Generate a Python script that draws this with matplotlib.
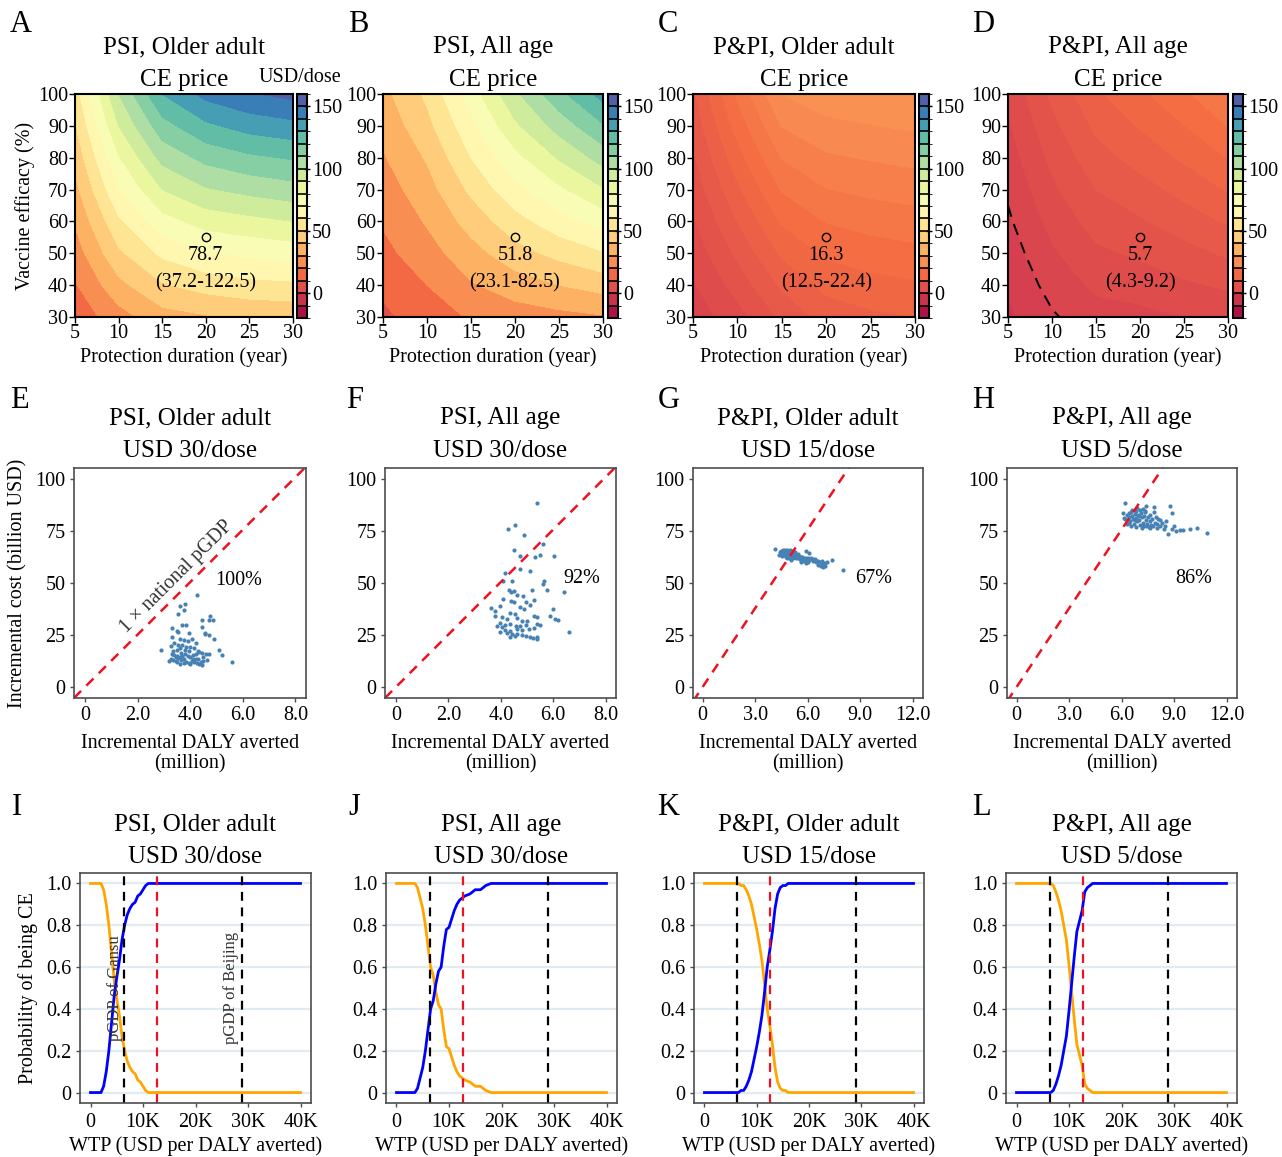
import matplotlib.pyplot as plt
import matplotlib as mpl
import numpy as np
from matplotlib.colors import Normalize, ListedColormap, BoundaryNorm

plt.rcParams['font.family'] = ['Liberation Serif', 'DejaVu Serif']

# ---------------- data ----------------
duration = [5, 10, 15, 20, 25, 30]
efficacy = [30, 40, 50, 60, 70, 80, 90, 100]

# CE price (USD/dose); one list per duration, values along efficacy 30..100
price_psi_old = [[13, 19, 25, 31, 37, 43, 49, 55],
                 [26, 37, 48, 58, 69, 79, 90, 100],
                 [36, 49, 62, 76, 90, 103, 116, 130],
                 [39, 54, 69, 84, 99, 113, 128, 143],
                 [41, 57, 72, 87, 103, 118, 134, 149],
                 [42, 58, 74, 90, 106, 121, 137, 153]]
price_psi_all = [[8, 12, 17, 21, 25, 29, 33, 37],
                 [15, 20, 26, 31, 36, 41, 47, 52],
                 [21, 29, 36, 44, 52, 60, 67, 75],
                 [25, 35, 46, 56, 67, 77, 88, 98],
                 [27, 40, 53, 66, 78, 91, 104, 117],
                 [29, 44, 59, 74, 89, 104, 119, 134]]
price_ppi_old = [[1, 2.2, 3.4, 4.7, 5.9, 7.1, 8.3, 9.5],
                 [4, 6, 8, 10, 12, 14, 16, 18],
                 [8, 10.4, 12.9, 15.3, 17.7, 20.1, 22.6, 25],
                 [11, 13.2, 15.4, 17.6, 19.9, 22.1, 24.3, 26.5],
                 [12, 14.1, 16.3, 18.4, 20.6, 22.7, 24.9, 27],
                 [12.5, 14.6, 16.8, 18.9, 21.1, 23.2, 25.4, 27.5]]
price_ppi_all = [[-3, -2.1, -1.3, -0.4, 0.4, 1.3, 2.1, 3],
                 [-0.3, 0.9, 2.1, 3.3, 4.5, 5.6, 6.8, 8],
                 [1.5, 3, 4.5, 6, 7.5, 9, 10.5, 12],
                 [1.8, 3.6, 5.4, 7.2, 9.0, 10.9, 12.7, 14.5],
                 [2.5, 4.6, 6.6, 8.7, 10.8, 12.9, 14.9, 17],
                 [3, 5.4, 7.9, 10.3, 12.7, 15.1, 17.6, 20]]
base_duration, base_efficacy = 20, 55
ce_labels = [('78.7', '(37.2-122.5)'), ('51.8', '(23.1-82.5)'),
             ('16.3', '(12.5-22.4)'), ('5.7', '(4.3-9.2)')]

# incremental DALY averted (million) / incremental cost (billion USD)
daly_E = [4.25, 3.6, 3.8, 3.75, 4.75, 4.85, 4.7, 4.45, 3.55, 3.3, 3.5, 3.7, 3.85, 4.45, 4.55, 4.7,
          4.55, 4.9, 5.1, 5.2, 5.6, 3.3, 3.6, 3.9, 4.05, 3.75, 2.9, 3.25, 3.4, 3.55, 3.7, 3.85,
          4.0, 4.15, 4.3, 3.5, 3.6, 3.3, 3.4, 3.5, 3.6, 3.7, 3.8, 3.9, 4.0, 4.1, 4.2, 4.35,
          4.45, 4.6, 4.7, 3.25, 3.35, 3.45, 3.55, 3.65, 3.75, 3.85, 3.95, 4.05, 4.15, 4.25, 4.35,
          4.45, 4.5, 3.2, 3.45, 3.65, 3.95, 4.1, 4.3, 4.5, 4.65, 3.55, 3.95, 4.2, 3.8, 3.5,
          4.0, 3.35, 3.6, 4.2, 3.75, 4.4]
cost_E = [44, 39, 40, 37, 34, 32, 32, 32, 35, 28.5, 27, 30, 30, 29, 26, 25,
          25.5, 23, 18, 15.5, 12, 24, 23, 22, 23, 22.5, 18, 19.5, 21, 20, 20, 19,
          19, 18.5, 17.5, 17.8, 18.5, 16, 15.5, 15, 14.5, 15, 16, 15, 14.5, 15.5, 16, 17,
          16.5, 16, 15.8, 13.5, 13, 12.5, 13.8, 12.8, 13.3, 12, 11.5, 12.5, 11.8, 11.5, 10.8,
          10.5, 12.5, 12.5, 14.2, 16.5, 17.2, 13.3, 13.2, 14.5, 13, 26.5, 26, 21, 18, 11.8,
          10.8, 17.2, 11.2, 13.6, 11.5, 12.2]
daly_F = [5.38, 4.27, 4.55, 4.87, 4.49, 4.72, 5.32, 5.51, 6.02, 5.61, 4.74, 5.13, 4.17, 4.08,
          4.43, 5.66, 5.61, 5.76, 6.4, 5.2, 4.3, 4.39, 4.49, 4.62, 4.85, 5.26, 4.96, 4.08,
          4.39, 4.52, 3.98, 4.74, 4.87, 5.13, 6.0, 3.62, 3.79, 3.79, 4.04, 4.34, 4.55, 5.26,
          5.38, 5.87, 6.08, 6.17, 4.23, 4.62, 4.81, 5.0, 3.98, 4.17, 4.36, 3.85, 4.04, 4.59,
          4.74, 4.96, 5.38, 5.51, 5.06, 5.26, 4.17, 4.36, 4.62, 4.81, 3.98, 4.23, 4.43, 4.62,
          4.81, 4.96, 5.13, 5.23, 5.38, 5.38, 6.59, 4.36, 4.55]
cost_F = [88.2, 76.1, 77.8, 72.9, 65.9, 63, 62.4, 63.3, 62.7, 68.7, 56.6, 55.8, 54.7, 50.7,
          51, 51, 49.3, 46.7, 45.5, 46.6, 46.7, 45.8, 46.1, 44.2, 43.5, 41.8, 40.7, 42.3,
          41.5, 40.7, 39.1, 38.4, 37.5, 39.4, 37.5, 37.8, 36.4, 34, 33.5, 35.4, 34.9, 34,
          33.5, 34.3, 32.7, 32.4, 32.7, 33, 31.7, 31.9, 30.8, 29.8, 30.3, 29.5, 28.7, 29.5,
          29.2, 29.8, 30.3, 29.8, 27.9, 28.2, 27.6, 27.1, 27.9, 27.6, 26.3, 26, 25.5, 25.5,
          25, 24.7, 23.9, 23.4, 23.8, 23.1, 26.3, 23.9, 24.7]
daly_G = [4.15, 4.5, 4.6, 4.7, 4.8, 4.9, 5.0, 5.1, 5.2, 5.3, 4.55, 4.65, 4.75, 4.85, 4.95, 5.05,
          5.15, 5.25, 5.35, 5.45, 4.6, 4.7, 4.8, 4.9, 5.0, 5.1, 5.2, 5.3, 5.4, 5.5, 5.6, 5.7,
          5.8, 5.9, 6.0, 4.55, 4.75, 4.95, 5.15, 5.35, 5.55, 5.75, 5.95, 6.1, 6.2, 6.3, 6.4,
          6.5, 6.6, 6.7, 6.8, 6.9, 7.0, 6.6, 6.75, 6.9, 7.0, 5.9, 6.0, 5.8, 5.6, 7.4, 7.1, 6.3,
          5.9, 6.1, 4.4, 4.35, 5.45, 5.65, 6.2, 6.45, 6.85, 5.05, 4.85, 8.0]
cost_G = [66.2, 65.5, 66, 65.8, 65.9, 65.3, 65.8, 65.2, 65, 64.8, 64.5, 64.8, 64.2, 64.7, 64.3,
          64.5, 64, 63.8, 63.5, 63.9, 63.5, 63.2, 63.7, 63.1, 63.4, 62.9, 63.2, 62.8, 62.6, 62.9,
          62.4, 62.6, 62.2, 62.0, 61.8, 62.8, 62.5, 62.2, 62, 61.8, 61.5, 61.2, 61, 60.8, 61.3,
          60.5, 60.8, 60.2, 60.6, 59.8, 59.5, 59.2, 59.6, 58.5, 58, 57.6, 58, 59.5, 60, 60.4,
          61, 61.2, 60.2, 61.6, 65.5, 64.3, 64.8, 63.2, 62, 60, 62.2, 61.4, 60.4, 61.2, 61.8,
          56.3]
daly_H = [6.2, 6.15, 6.2, 6.3, 6.35, 6.4, 6.45, 6.5, 6.55, 6.6, 6.65, 6.7, 6.75, 6.8, 6.85, 6.9,
          6.95, 7.0, 7.05, 7.1, 7.15, 7.2, 7.25, 7.3, 7.35, 7.4, 7.45, 7.5, 7.55, 7.6, 7.7, 7.75,
          7.8, 7.85, 7.85, 7.9, 8.0, 8.05, 8.1, 8.2, 8.3, 8.4, 8.5, 8.67, 8.76, 8.9, 8.9, 9.0,
          9.14, 9.33, 9.52, 9.9, 10.3, 10.86, 7.39, 7.33, 6.6, 6.9, 7.05, 6.3, 6.55, 6.85, 7.0,
          7.2, 7.6, 7.95, 8.2, 6.75, 7.4, 7.65, 8.55, 6.1, 6.4, 7.15]
cost_H = [88.2, 81, 80.5, 82.5, 80, 83.5, 81.5, 79.5, 84, 82, 80.5, 78.5, 83, 84.5, 81, 79.5,
          82.5, 80, 78, 83.5, 81.5, 79, 77.5, 82, 84.5, 80, 78.5, 81.5, 77, 79.5, 78, 80.5,
          77.5, 86.3, 83.9, 79, 76.5, 78.5, 80.5, 77.5, 79, 76, 77.5, 73.6, 87, 83.8, 76, 77.5,
          74.7, 75.2, 75.5, 75.8, 76.2, 74.2, 87, 84.3, 85, 86, 85, 78.5, 77.5, 77, 82,
          85.5, 82.5, 81.5, 80, 80, 77.5, 76.5, 79.5, 83.5, 78.8, 76.5]
pct_labels = ['100%', '92%', '67%', '86%']
national_pgdp = 12.6   # thousand USD, 1 x national pGDP threshold
gansu_pgdp = 6.3
beijing_pgdp = 28.9

# CEAC: WTP (thousand USD per DALY) and probability vaccination is CE
wtp_I = [0, 1, 2, 2.5, 3, 3.5, 4, 4.5, 5, 5.5, 6, 6.5, 7, 7.5, 8, 8.5, 9, 9.5, 10, 10.5, 11, 40]
prob_I = [0, 0, 0, 0.03, 0.1, 0.2, 0.33, 0.46, 0.55, 0.63, 0.73, 0.8, 0.85, 0.88, 0.9, 0.91,
          0.94, 0.95, 0.97, 0.99, 1.0, 1.0]
wtp_J = [0, 3.5, 4, 4.5, 5, 5.5, 6, 6.5, 7, 7.5, 8, 8.5, 9, 9.5, 10, 10.5, 11, 11.5, 12, 13,
         14, 15, 16, 17, 18, 40]
prob_J = [0, 0, 0.02, 0.07, 0.12, 0.2, 0.3, 0.4, 0.44, 0.52, 0.58, 0.6, 0.7, 0.78, 0.79, 0.83,
          0.87, 0.9, 0.92, 0.94, 0.95, 0.97, 0.97, 0.99, 1.0, 1.0]
wtp_K = [0, 6.5, 7, 7.5, 8, 8.5, 9, 9.5, 10, 10.5, 11, 11.5, 12, 12.5, 13, 13.5, 14, 14.5, 15,
         15.5, 16, 40]
prob_K = [0, 0, 0.01, 0.01, 0.03, 0.06, 0.1, 0.16, 0.22, 0.29, 0.37, 0.48, 0.6, 0.68, 0.77,
          0.88, 0.95, 0.98, 0.99, 0.99, 1.0, 1.0]
wtp_L = [0, 6.5, 7, 7.5, 8, 8.5, 9, 9.5, 10, 10.5, 11, 11.5, 12, 12.5, 13, 13.5, 14, 14.5, 40]
prob_L = [0, 0, 0.01, 0.04, 0.08, 0.13, 0.2, 0.27, 0.39, 0.52, 0.65, 0.77, 0.82, 0.87, 0.96,
          0.98, 0.99, 1.0, 1.0]

titles_top = ['PSI, Older adult', 'PSI, All age', 'P&PI, Older adult', 'P&PI, All age']
doses = ['USD 30/dose', 'USD 30/dose', 'USD 15/dose', 'USD 5/dose']

# ---------------- figure ----------------
W, H = 1282, 1157
fig = plt.figure(figsize=(W / 100, H / 100), dpi=100)


def px_axes(l, t, r, b):
    return fig.add_axes([l / W, 1 - b / H, (r - l) / W, (b - t) / H])


fs = 14.5
tfs = 18
price_norm = Normalize(-20, 160)
cmap = plt.get_cmap('Spectral')
bounds = np.arange(-20, 170, 10)
mids = (bounds[:-1] + bounds[1:]) / 2
cb_cmap = ListedColormap(cmap(price_norm(mids)))
cb_norm = BoundaryNorm(bounds, cb_cmap.N)
gray = '#4d4d4d'

# row 1: contour maps
contour_pos = [(75, 94, 293, 317), (383, 94, 603, 317), (693, 94, 915, 317), (1008, 94, 1228, 317)]
cbar_pos = [(297, 94, 307, 318), (608, 94, 618, 318), (919, 94, 929, 318), (1233, 94, 1243, 318)]
grids = [price_psi_old, price_psi_all, price_ppi_old, price_ppi_all]
level_sets = [np.arange(0, 170, 10), np.arange(0, 150, 10), np.arange(0, 30.1, 2.5), np.arange(-5, 22.6, 2.5)]

for i in range(4):
    ax = px_axes(*contour_pos[i])
    Z = np.array(grids[i]).T
    ax.contourf(duration, efficacy, Z, levels=level_sets[i], cmap=cmap, norm=price_norm)
    if Z.min() < 0:
        ax.contour(duration, efficacy, Z, levels=[0], colors='black',
                   linestyles=[(0, (6, 4))], linewidths=1.4)
    ax.plot(base_duration, base_efficacy, 'o', mfc='none', mec='black', ms=6, mew=1)
    ax.text(base_duration, 49.3, ce_labels[i][0], ha='center', va='center', fontsize=fs)
    ax.text(base_duration, 40.8, ce_labels[i][1], ha='center', va='center', fontsize=fs)
    ax.set_xlim(5, 30)
    ax.set_ylim(30, 100)
    ax.set_xticks([5, 10, 15, 20, 25, 30])
    ax.set_yticks([30, 40, 50, 60, 70, 80, 90, 100])
    ax.tick_params(labelsize=fs, length=4, width=1, pad=1)
    for s in ax.spines.values():
        s.set_linewidth(1.5)
    ax.set_xlabel('Protection duration (year)', fontsize=fs, labelpad=3)
    if i == 0:
        ax.set_ylabel('Vaccine efficacy (%)', fontsize=fs, labelpad=2)
    ax.set_title(titles_top[i] + '\nCE price', fontsize=tfs, pad=6, linespacing=1.62)

    cax = px_axes(*cbar_pos[i])
    cb = fig.colorbar(mpl.cm.ScalarMappable(norm=cb_norm, cmap=cb_cmap), cax=cax,
                      ticks=[0, 50, 100, 150], drawedges=True)
    cb.outline.set_linewidth(1.5)
    cb.dividers.set_color('black')
    cb.dividers.set_linewidth(1.2)
    cax.tick_params(labelsize=fs, length=5, width=1, direction='inout', pad=1)
    if i == 0:
        cax.text(0.3, 1.03, 'USD/dose', transform=cax.transAxes, ha='center', va='bottom', fontsize=fs)

# row 2: cost-effectiveness planes
scatter_pos = [(74, 468, 306, 698), (385, 468, 616, 698), (693, 468, 923, 698), (1007, 468, 1237, 698)]
daly_sets = [daly_E, daly_F, daly_G, daly_H]
cost_sets = [cost_E, cost_F, cost_G, cost_H]
pct_xy = [(5.85, 51), (7.1, 52), (9.8, 52), (10.15, 52)]

for i in range(4):
    ax = px_axes(*scatter_pos[i])
    if i < 2:
        xlim = (-0.42, 8.4)
        xt = [0, 2, 4, 6, 8]
        xtl = ['0', '2.0', '4.0', '6.0', '8.0']
    else:
        xlim = (-0.55, 12.6)
        xt = [0, 3, 6, 9, 12]
        xtl = ['0', '3.0', '6.0', '9.0', '12.0']
    lx = np.array(xlim)
    ax.plot(lx, national_pgdp * lx, color='#ee1122', lw=1.8, dashes=(4, 3))
    ax.scatter(daly_sets[i], cost_sets[i], s=9, color='#4682b4', linewidths=0)
    ax.text(*pct_xy[i], pct_labels[i], ha='center', va='center', fontsize=fs)
    if i == 0:
        ax.text(3.5, 53, '1 × national pGDP', rotation=45, ha='center', va='center',
                fontsize=fs, color='#333333')
        ax.set_ylabel('Incremental cost (billion USD)', fontsize=fs, labelpad=6)
    ax.set_xlim(xlim)
    ax.set_ylim(-5.3, 105.2)
    ax.set_xticks(xt)
    ax.set_xticklabels(xtl)
    ax.set_yticks([0, 25, 50, 75, 100])
    ax.tick_params(labelsize=fs, length=3, width=1, color=gray, pad=3)
    for s in ax.spines.values():
        s.set_linewidth(1.2)
        s.set_color(gray)
    ax.set_xlabel('Incremental DALY averted\n(million)', fontsize=fs, labelpad=6, linespacing=1.1)
    ax.set_title(titles_top[i] + '\n' + doses[i], fontsize=tfs, pad=8, linespacing=1.62)

# row 3: acceptability curves
ceac_pos = [(80, 873, 311, 1103), (386, 873, 617, 1103), (694, 873, 924, 1103), (1006, 873, 1237, 1103)]
wtp_sets = [wtp_I, wtp_J, wtp_K, wtp_L]
prob_sets = [prob_I, prob_J, prob_K, prob_L]

for i in range(4):
    ax = px_axes(*ceac_pos[i])
    ax.set_axisbelow(True)
    ax.yaxis.grid(True, color='#e2ecf0', lw=1.6)
    w = np.array(wtp_sets[i])
    p = np.array(prob_sets[i])
    ax.plot(w, 1 - p, color='#ffa500', lw=2)
    ax.plot(w, p, color='#0000ff', lw=2)
    for xv, c in [(gansu_pgdp, 'black'), (beijing_pgdp, 'black'), (national_pgdp, '#ee1122')]:
        ax.axvline(xv, color=c, lw=1.6, dashes=(4, 3))
    if i == 0:
        ax.text(4.75, 0.5, 'pGDP of Gansu', rotation=90, ha='center', va='center', fontsize=12, color='#333333')
        ax.text(26.8, 0.5, 'pGDP of Beijing', rotation=90, ha='center', va='center', fontsize=12, color='#333333')
        ax.set_ylabel('Probability of being CE', fontsize=fs, labelpad=6)
    ax.set_xlim(-2, 42)
    ax.set_ylim(-0.05, 1.05)
    ax.set_xticks([0, 10, 20, 30, 40])
    ax.set_xticklabels(['0', '10K', '20K', '30K', '40K'])
    ax.set_yticks([0, 0.2, 0.4, 0.6, 0.8, 1.0])
    ax.set_yticklabels(['0', '0.2', '0.4', '0.6', '0.8', '1.0'])
    ax.tick_params(labelsize=fs, length=3, width=1, color=gray, pad=3)
    ax.tick_params(axis='x', pad=4)
    for s in ax.spines.values():
        s.set_linewidth(1.2)
        s.set_color(gray)
    ax.set_xlabel('WTP (USD per DALY averted)', fontsize=fs, labelpad=3.5)
    ax.set_title(titles_top[i] + '\n' + doses[i], fontsize=tfs, pad=7, linespacing=1.62)

# panel letters
letters = [('A', 10, 32), ('B', 348, 32), ('C', 658, 32), ('D', 972, 32),
           ('E', 10, 408), ('F', 346, 408), ('G', 658, 408), ('H', 972, 408),
           ('I', 12, 815), ('J', 348, 815), ('K', 657, 815), ('L', 972, 815)]
for lab, x, y in letters:
    fig.text(x / W, 1 - y / H, lab, fontsize=22, ha='left', va='baseline')

fig.savefig('out.png', dpi=100)
